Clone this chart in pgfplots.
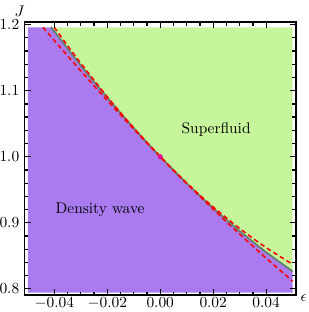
\documentclass[border=0pt]{standalone}
\usepackage{pgfplots}
\pgfplotsset{compat=1.18}
\definecolor{dwpurple}{RGB}{169,123,239}
\definecolor{sfgreen}{RGB}{198,245,155}
\definecolor{bdgray}{RGB}{100,128,112}
\begin{document}
\begin{tikzpicture}
\begin{axis}[
  name=ax,
  scale only axis,
  width=176pt, height=177pt,
  xmin=-0.0512, xmax=0.0512,
  ymin=0.7905, ymax=1.2035,
  axis on top,
  axis line style={line width=1.1pt},
  every tick/.style={black, line width=0.8pt},
  major tick length=4pt, minor tick length=2.2pt,
  tick align=inside,
  xtick={-0.04,-0.02,0,0.02,0.04},
  ytick={0.8,0.9,1.0,1.1,1.2},
  minor x tick num=3,
  minor y tick num=4,
  tick label style={font=\fontsize{9.6}{11}\selectfont},
  xticklabel style={inner sep=1.5pt, /pgf/number format/.cd, fixed, fixed zerofill, precision=2},
  yticklabel style={/pgf/number format/.cd, fixed, fixed zerofill, precision=1},
  scaled x ticks=false,
  xlabel={$\epsilon$},
  xlabel style={at={(axis description cs:1,0)}, anchor=center, xshift=5.2pt, yshift=-2.2pt, inner sep=0pt},
  ylabel={$J$},
  ylabel style={rotate=-90, at={(axis description cs:0,1)}, anchor=center, xshift=-3.2pt, yshift=7pt, inner sep=0pt},
]
% density wave region
\addplot[draw=none, fill=dwpurple] coordinates {
 (-0.05,0.794) (-0.05,1.196) (-0.0413,1.196) (-0.04,1.1898) (-0.03,1.1381)
 (-0.02,1.0893) (-0.01,1.0432) (0,1.0) (0.01,0.9596) (0.02,0.9220)
 (0.03,0.8873) (0.04,0.8554) (0.05,0.8263) (0.05,0.794)} -- cycle;
% superfluid region
\addplot[draw=none, fill=sfgreen] coordinates {
 (-0.0413,1.196) (-0.04,1.1898) (-0.03,1.1381)
 (-0.02,1.0893) (-0.01,1.0432) (0,1.0) (0.01,0.9596) (0.02,0.9220)
 (0.03,0.8873) (0.04,0.8554) (0.05,0.8263) (0.05,1.196)} -- cycle;
% boundary
\addplot[bdgray, line width=1.2pt, smooth] coordinates {
 (-0.0413,1.196) (-0.04,1.1898) (-0.03,1.1381)
 (-0.02,1.0893) (-0.01,1.0432) (0,1.0) (0.01,0.9596) (0.02,0.9220)
 (0.03,0.8873) (0.04,0.8554) (0.05,0.8263)};
% upper dashed approximation
\addplot[red, line width=1pt, dash pattern=on 3pt off 2pt, smooth] coordinates {
 (-0.040,1.196) (-0.035,1.1682) (-0.03,1.1415) (-0.02,1.0907) (-0.01,1.0435)
 (0,1.0) (0.01,0.9601) (0.02,0.9239) (0.03,0.8913) (0.04,0.8623) (0.05,0.837)};
% lower dashed approximation
\addplot[red, line width=1pt, dash pattern=on 3pt off 2pt, smooth] coordinates {
 (-0.0443,1.196) (-0.04,1.176) (-0.03,1.1299) (-0.02,1.0852) (-0.01,1.0419)
 (0,1.0) (0.01,0.9595) (0.02,0.9204) (0.03,0.8827) (0.04,0.8464) (0.05,0.8115)};
% critical point
\addplot[only marks, mark=*, mark size=1.4pt, magenta] coordinates {(0,1.0)};
\node at (axis cs:0.0211,1.0405) {Superfluid};
\node at (axis cs:-0.0227,0.9194) {Density wave};
\end{axis}
\pgfresetboundingbox
\path[use as bounding box] ([shift={(-16pt,-11pt)}]ax.south west) rectangle ([shift={(8.3pt,14.5pt)}]ax.north east);
\end{tikzpicture}
\end{document}
